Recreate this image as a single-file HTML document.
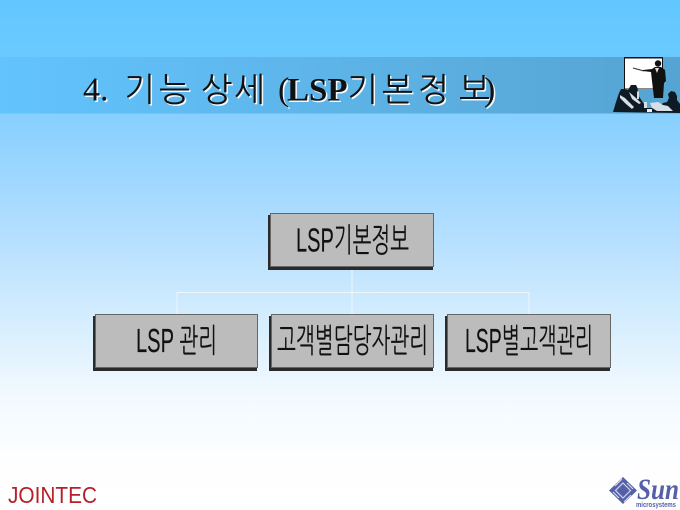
<!DOCTYPE html>
<html lang="ko"><head><meta charset="utf-8"><style>
html,body{margin:0;padding:0;width:680px;height:510px;overflow:hidden;background:#fff}
svg{display:block}
.t{font-family:"Liberation Serif",serif;font-size:34px}
.h{font-family:"NanumGothic","Noto Sans CJK KR",sans-serif;font-size:33px;font-weight:400}
.k{font-family:"Liberation Sans","NanumGothic","Noto Sans CJK KR",sans-serif}
</style></head><body>
<svg width="680" height="510" viewBox="0 0 680 510" xmlns="http://www.w3.org/2000/svg">
<defs>
<linearGradient id="bg" gradientUnits="userSpaceOnUse" x1="0" y1="0" x2="0" y2="510">
<stop offset="0" stop-color="#62c7ff"/><stop offset=".11" stop-color="#6acaff"/><stop offset=".22" stop-color="#86cfff"/><stop offset=".45" stop-color="#b2deff"/><stop offset=".65" stop-color="#d9effe"/><stop offset=".77" stop-color="#f1f9ff"/><stop offset=".9" stop-color="#fdfeff"/><stop offset="1" stop-color="#ffffff"/>
</linearGradient>
<linearGradient id="band" x1="0" y1="0" x2="1" y2="0">
<stop offset="0" stop-color="#62c3fd"/><stop offset=".25" stop-color="#60bcf3"/><stop offset=".6" stop-color="#5cb0e2"/><stop offset="1" stop-color="#55a4d2"/>
</linearGradient>
<g id="title">
<text class="t" x="83" y="100.500">4.</text>
<text class="h" y="101" x="124 159 201 234">기능상세</text>
<text class="t" x="278" y="100.500">(<tspan font-weight="700" x="287" font-size="33">LSP</tspan></text>
<text class="h" y="101" x="347 382 418 459">기본정보</text>
<text class="t" x="484" y="100.500">)</text>
</g>
</defs>
<rect width="680" height="510" fill="url(#bg)"/>
<rect y="57" width="680" height="56.500" fill="url(#band)"/>

<use href="#title" x="1.500" y="1.500" fill="#f2f8fc"/>
<use href="#title" fill="#111"/>

<g>
<rect x="624" y="57" width="39" height="32" fill="#111"/>
<rect x="625" y="58.500" width="37" height="30" fill="#fff"/>
<path d="M633 68l11 3" stroke="#333" stroke-width="1" fill="none"/>
<path d="M643 70l9-1 3-2h6l4 3 1 11-2 2-1 15h-9l-2-17-1-9-8-1z" fill="#111"/>
<path d="M655 68l2 5 2-5z" fill="#ddd"/>
<circle cx="658" cy="63.500" r="3.200" fill="#111"/>
<path d="M613 112l3-10 3-9 2-4 4 0 3 1 3-5 5 0 2 4-1 4 3 5 4 6 3 4 11 0 5-5 4-1 2-4-1-4 3-3 4 1 2 4 0 4 3 4 3 9-3 0z" fill="#0e1a24"/>
<path d="M620 95l5 3 5 5 4 4-2 2-6-5-6-6zM629 92l7 6 5 5-2 1-7-5zM644 102l3 0 0 6-3 0zM650 103l8-1 5 3 5 1 5 5-16 0-5-3zM637 92l2-1 0 8-2 0z" fill="#d8dfe4"/>
<path d="M647 109h5v3h-5z" fill="#e8eef2"/>
</g>

<g fill="none" stroke="#eef7fe" stroke-width="1">
<path d="M352 267V314M177 314V292.500H529V314"/>
</g>

<g stroke="#666" stroke-width="1">
<rect x="268.500" y="215.500" width="164" height="54" fill="#2a2a2a" stroke="#2a2a2a"/>
<rect x="270.500" y="213.500" width="163" height="53" fill="#bcbcbc"/>
<rect x="93.500" y="316.500" width="163" height="54" fill="#2a2a2a" stroke="#2a2a2a"/>
<rect x="95.500" y="314.500" width="162" height="53" fill="#bcbcbc"/>
<rect x="269.500" y="316.500" width="163" height="54" fill="#2a2a2a" stroke="#2a2a2a"/>
<rect x="271.500" y="314.500" width="162" height="53" fill="#bcbcbc"/>
<rect x="445.500" y="316.500" width="164" height="54" fill="#2a2a2a" stroke="#2a2a2a"/>
<rect x="447.500" y="314.500" width="163" height="53" fill="#bcbcbc"/>
</g>

<g class="k" font-size="33" fill="#111" stroke="#111" stroke-width=".15">
<text x="296" y="251.500" textLength="113" lengthAdjust="spacingAndGlyphs">LSP기본정보</text>
<text x="136" y="352" textLength="81" lengthAdjust="spacingAndGlyphs">LSP 관리</text>
<text x="277" y="352" textLength="151" lengthAdjust="spacingAndGlyphs">고객별담당자관리</text>
<text x="465" y="352" textLength="128" lengthAdjust="spacingAndGlyphs">LSP별고객관리</text>
</g>

<text x="8" y="503" font-family="'Liberation Sans',sans-serif" font-size="23" fill="#b5202a" textLength="89" lengthAdjust="spacingAndGlyphs">JOINTEC</text>

<g>
<path d="M623 477l14 13.500-14 13.500-14-13.500z" fill="#5560a8"/>
<path d="M623 483l7.500 7.500-7.500 7.500-7.500-7.500zM615 486l7-7M631 495l-7 7M619 498l-6-6M627 483l6 6" fill="none" stroke="#cfd6ee" stroke-width="1.200"/>
<text x="637" y="499" font-family="'Liberation Serif',serif" font-style="italic" font-weight="700" font-size="30" fill="#5560a8" textLength="42" lengthAdjust="spacingAndGlyphs">Sun</text>
<text x="636" y="507" font-family="'Liberation Sans',sans-serif" font-size="7" font-weight="700" fill="#5560a8" textLength="40" lengthAdjust="spacingAndGlyphs">microsystems</text>
</g>
</svg>
</body></html>
